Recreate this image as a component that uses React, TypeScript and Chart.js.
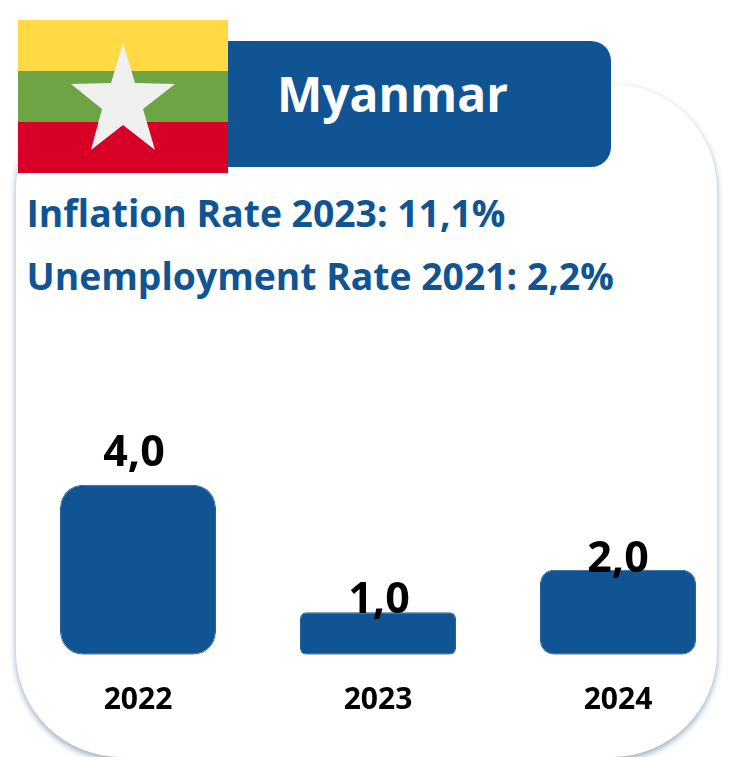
import React, { useEffect, useRef } from "react";
import { Chart, registerables } from "chart.js";

Chart.register(...registerables);

const years = ["2022", "2023", "2024"];
const growth = [4.0, 1.0, 2.0];
const growthLabels = ["4,0", "1,0", "2,0"];
const country = "Myanmar";
const inflationLine = "Inflation Rate 2023: 11,1%";
const unemploymentLine = "Unemployment Rate 2021: 2,2%";

const BLUE = "#105494";
const FONT = '"Open Sans", "Noto Sans", sans-serif';
const cornerRadii = [23, 6, 14];
const labelLift = [19, -1, -2];
const labelShift = [-4, 1, 0];

// Writes each value over its bar, in front of the bars themselves.
const valueLabels = {
  id: "valueLabels",
  afterDatasetsDraw(chart: Chart) {
    const { ctx } = chart;
    ctx.save();
    ctx.font = `bold 43px ${FONT}`;
    ctx.fillStyle = "#000000";
    ctx.textAlign = "center";
    ctx.textBaseline = "alphabetic";
    chart.getDatasetMeta(0).data.forEach((bar, i) => {
      ctx.fillText(growthLabels[i], bar.x + labelShift[i], bar.y - labelLift[i]);
    });
    ctx.restore();
  },
};

const abs = (
  left: number,
  top: number,
  width: number,
  height: number,
): React.CSSProperties => ({ position: "absolute", left, top, width, height });

export default function App() {
  const canvasRef = useRef<HTMLCanvasElement>(null);

  useEffect(() => {
    document.body.style.margin = "0";
    const chart = new Chart(canvasRef.current!, {
      type: "bar",
      data: {
        labels: years,
        datasets: [
          {
            data: growth,
            backgroundColor: BLUE,
            borderColor: "#2b6199",
            borderWidth: 1,
            borderSkipped: false,
            borderRadius: cornerRadii,
            barPercentage: 0.65,
            categoryPercentage: 1,
          },
        ],
      },
      options: {
        animation: false,
        responsive: false,
        layout: { padding: { top: 14.7, left: 0, right: 0, bottom: 0 } },
        plugins: { legend: { display: false }, tooltip: { enabled: false } },
        scales: {
          x: {
            grid: { display: false },
            border: { display: false },
            ticks: {
              color: "#000000",
              padding: 20,
              maxRotation: 0,
              font: { family: FONT, size: 30, weight: "bold" },
            },
            afterFit(scale: any) {
              scale.height = 102.3;
            },
          },
          y: { display: false, min: 0, max: 8 },
        },
      },
      plugins: [valueLabels],
    });
    return () => chart.destroy();
  }, []);

  return (
    <div style={{ position: "relative", width: 730, height: 757, overflow: "hidden", background: "#fff", fontFamily: FONT }}>
      <div
        style={{
          ...abs(16, 84, 701, 673),
          boxSizing: "border-box",
          background: "#fff",
          borderRadius: 105,
          boxShadow: "0 3px 6px rgba(40,80,125,0.48)",
        }}
      />
      <div style={{ ...abs(200, 41, 411, 126), background: BLUE, borderRadius: 20 }} />
      <svg style={abs(18, 20, 210, 153)} viewBox="18 20 210 153">
        <rect x="18" y="20" width="210" height="51" fill="#FFDA44" />
        <rect x="18" y="71" width="210" height="51" fill="#6DA544" />
        <rect x="18" y="122" width="210" height="51" fill="#D80027" />
        <polygon
          points="123,43 135,83 175,84 143,109 155,150 123,125 91,150 102,109 71,84 111,83"
          fill="#F0F0F0"
        />
      </svg>
      <div style={{ position: "absolute", left: 277, top: 59, color: "#fff", fontWeight: 700, fontSize: 48, lineHeight: "70px", whiteSpace: "nowrap" }}>
        {country}
      </div>
      <div style={{ position: "absolute", left: 26.5, top: 188, color: BLUE, fontWeight: 700, fontSize: 37.3, lineHeight: "50px", whiteSpace: "nowrap" }}>
        {inflationLine}
      </div>
      <div style={{ position: "absolute", left: 26.5, top: 251, color: BLUE, fontWeight: 700, fontSize: 37.3, lineHeight: "50px", whiteSpace: "nowrap" }}>
        {unemploymentLine}
      </div>
      <canvas ref={canvasRef} width={720} height={457} style={{ position: "absolute", left: 18, top: 300 }} />
    </div>
  );
}
